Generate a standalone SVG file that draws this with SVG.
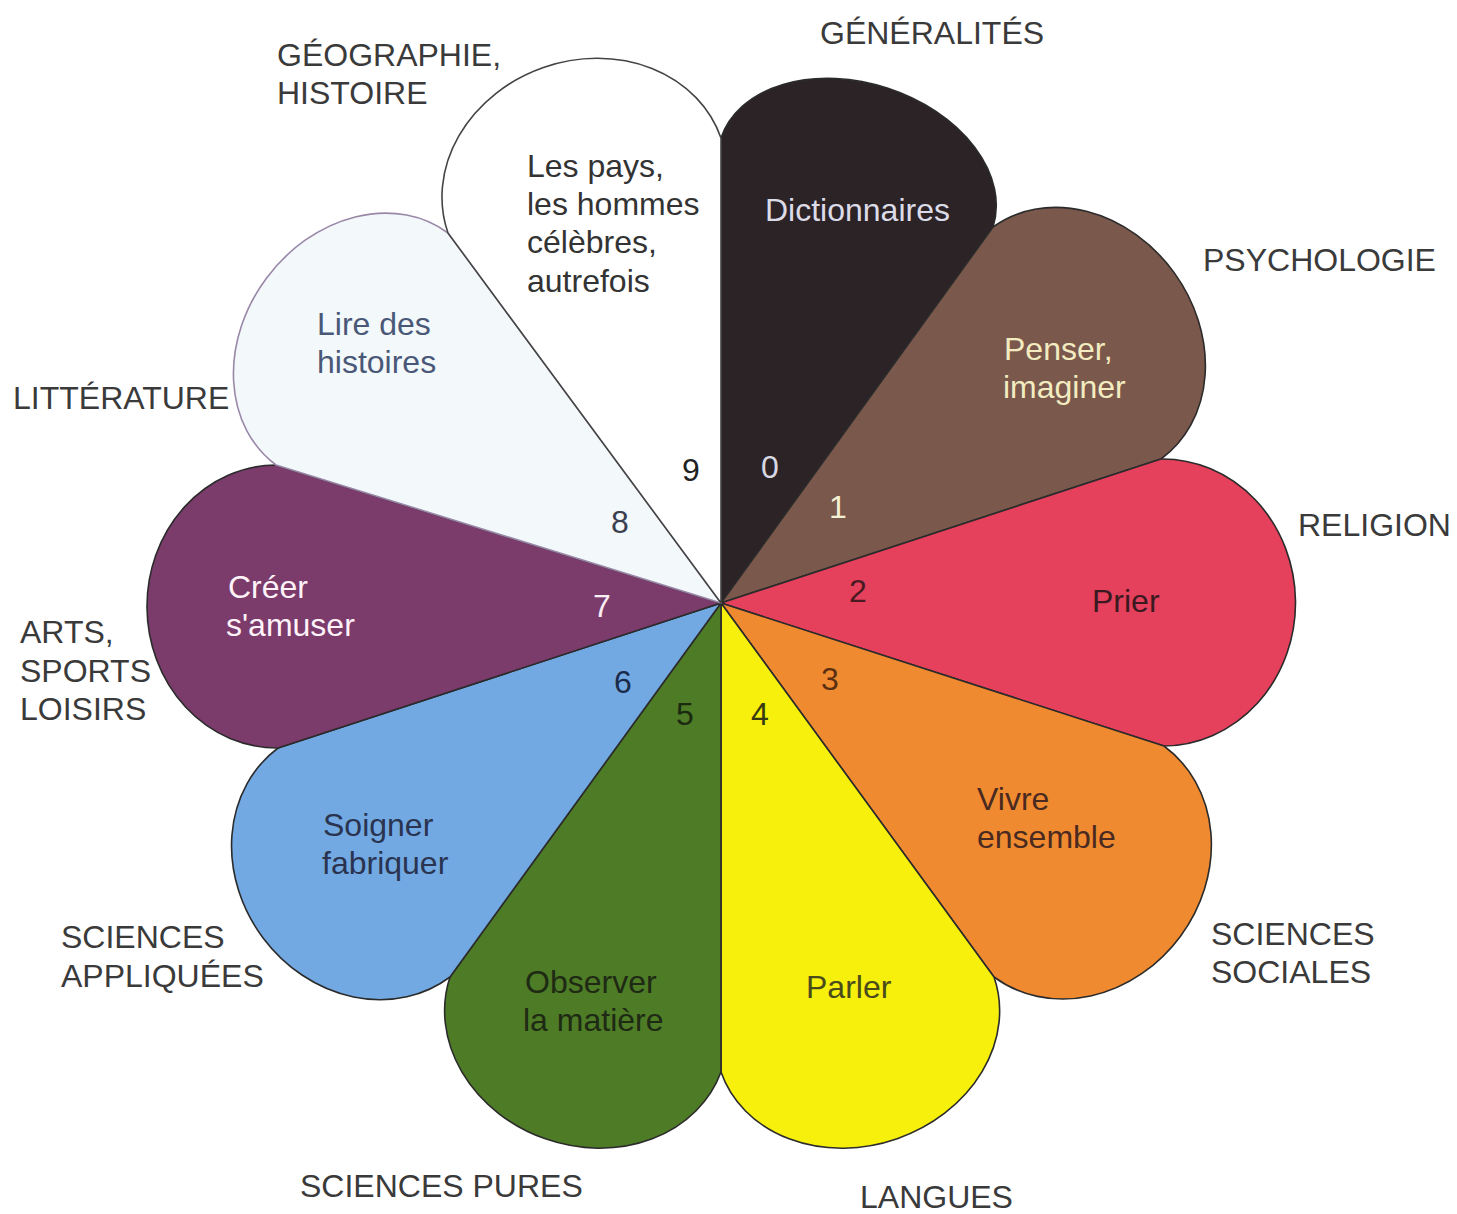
<svg xmlns="http://www.w3.org/2000/svg" width="1457" height="1214" viewBox="0 0 1457 1214">
<style>
.p{stroke:#2b2b2b;stroke-width:1.6;stroke-linejoin:round}
.cat{font-family:"Liberation Sans",Arial,sans-serif;font-size:32px;fill:#3a3a3a}
.in{font-family:"Liberation Sans",Arial,sans-serif;font-size:32px}
.num{font-family:"Liberation Sans",Arial,sans-serif;font-size:32px}
</style>
<rect width="1457" height="1214" fill="#ffffff"/>
<g id="petal-0"><path class="p" fill="#2c2327" d="M721 603 L721 138 A143.1 100 18.1 0 1 993 227 Z"/><text class="in" x="765" y="221" fill="#dcdce8">Dictionnaires</text><text class="num" x="761" y="478" fill="#d8d8e2">0</text></g>
<g id="petal-1"><path class="p" fill="#7b584c" d="M721 603 L993 227 A143.2 120 54.1 0 1 1161 459 Z"/><text class="in" x="1004" y="360" fill="#f2ecc0">Penser,</text><text class="in" x="1003" y="398" fill="#f2ecc0">imaginer</text><text class="num" x="829" y="518" fill="#f4f0d4">1</text></g>
<g id="petal-2"><path class="p" fill="#e5405c" d="M721 603 L1161 459 A143.5 133 89.4 0 1 1164 746 Z"/><text class="in" x="1092" y="612" fill="#3a1a20">Prier</text><text class="num" x="849" y="602" fill="#4a1a22">2</text></g>
<g id="petal-3"><path class="p" fill="#f08a30" d="M721 603 L1164 746 A143.4 126 126.35 0 1 994 977 Z"/><text class="in" x="977" y="810" fill="#4a2a20">Vivre</text><text class="in" x="977" y="848" fill="#4a2a20">ensemble</text><text class="num" x="821" y="690" fill="#5a3010">3</text></g>
<g id="petal-4"><path class="p" fill="#f6f00c" d="M721 603 L994 977 A144.5 121 160.8 0 1 721 1072 Z"/><text class="in" x="806" y="998" fill="#4a4a1a">Parler</text><text class="num" x="751" y="725" fill="#3a3a10">4</text></g>
<g id="petal-5"><path class="p" fill="#4d7b26" d="M721 603 L721 1072 A143.6 123 199.3 0 1 450 977 Z"/><text class="in" x="525" y="993" fill="#1e2a14">Observer</text><text class="in" x="523" y="1031" fill="#1e2a14">la matière</text><text class="num" x="676" y="725" fill="#1a2a10">5</text></g>
<g id="petal-6"><path class="p" fill="#72a9e2" d="M721 603 L450 977 A143.2 126 233.1 0 1 278 748 Z"/><text class="in" x="323" y="836" fill="#2a3450">Soigner</text><text class="in" x="322" y="874" fill="#2a3450">fabriquer</text><text class="num" x="614" y="693" fill="#1a2a4a">6</text></g>
<g id="petal-7"><path class="p" fill="#7b3b6b" d="M721 603 L278 748 A141.5 130 269.6 0 1 276 465 Z"/><text class="in" x="228" y="598" fill="#fff2f8">Créer</text><text class="in" x="226" y="636" fill="#fff2f8">s'amuser</text><text class="num" x="593" y="617" fill="#f8eef4">7</text></g>
<g id="petal-8"><path class="p" fill="#f3f8fb" d="M721 603 L276 465 A144.4 119 306.6 0 1 448 233 Z" style="stroke:#9a88a8"/><text class="in" x="317" y="335" fill="#4a5878">Lire des</text><text class="in" x="317" y="373" fill="#4a5878">histoires</text><text class="num" x="611" y="533" fill="#3a4050">8</text></g>
<g id="petal-9"><path class="p" fill="#ffffff" d="M721 603 L448 233 A144.5 125 340.8 0 1 721 138 Z" style="stroke:#444"/><text class="in" x="527" y="177" fill="#333">Les pays,</text><text class="in" x="527" y="215" fill="#333">les hommes</text><text class="in" x="527" y="253" fill="#333">célèbres,</text><text class="in" x="527" y="292" fill="#333">autrefois</text><text class="num" x="682" y="481" fill="#222">9</text></g>
<g id="labels">
<text class="cat" x="820" y="44">GÉNÉRALITÉS</text>
<text class="cat" x="277" y="66">GÉOGRAPHIE,</text>
<text class="cat" x="277" y="104">HISTOIRE</text>
<text class="cat" x="1203" y="271">PSYCHOLOGIE</text>
<text class="cat" x="1298" y="536">RELIGION</text>
<text class="cat" x="13" y="409">LITTÉRATURE</text>
<text class="cat" x="20" y="643">ARTS,</text>
<text class="cat" x="20" y="682">SPORTS</text>
<text class="cat" x="20" y="720">LOISIRS</text>
<text class="cat" x="61" y="948">SCIENCES</text>
<text class="cat" x="61" y="987">APPLIQUÉES</text>
<text class="cat" x="1211" y="945">SCIENCES</text>
<text class="cat" x="1211" y="983">SOCIALES</text>
<text class="cat" x="300" y="1197">SCIENCES PURES</text>
<text class="cat" x="860" y="1208">LANGUES</text>
</g>
<g id="connectors"></g>
</svg>
